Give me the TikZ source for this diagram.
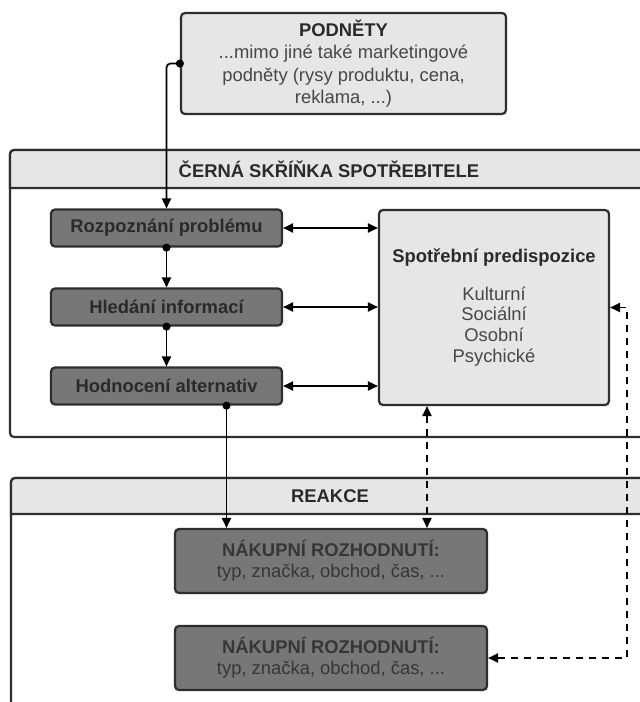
\documentclass[tikz,border=0pt]{standalone}
\usepackage{fontspec}
\setmainfont{Liberation Sans}
\usepackage{tikz}
\usetikzlibrary{arrows.meta}

\definecolor{boxlight}{HTML}{E6E6E6}
\definecolor{boxdark}{HTML}{777777}
\definecolor{edge}{HTML}{2E2E2E}
\definecolor{inktext}{HTML}{2A2A2A}
\definecolor{softtext}{HTML}{474747}
\definecolor{naktext}{HTML}{363636}

\begin{document}
\begin{tikzpicture}[x=0.5pt,y=-0.5pt,>={Triangle[length=5pt,width=4.6pt]}]
\tikzstyle{every node} = [font = \fontsize{9.2}{11.2}\selectfont]
\tikzstyle{lightbox} = [draw=edge, line width=1.1pt, fill=boxlight, rounded corners=2pt, align=center, inner sep=0pt]
\tikzstyle{darkbox} = [draw=edge, line width=1.1pt, fill=boxdark, rounded corners=2pt, align=center, inner sep=0pt, text=inktext, font=\fontsize{9.2}{10.5}\selectfont\bfseries]
\tikzstyle{link} = [draw=black, line width=0.85pt]
\tikzstyle{dotlink} = [link, {Circle[length=4pt]}->, shorten <=-2pt]
\tikzstyle{twoway} = [link, <->]
\tikzstyle{dashlink} = [link, <->, dash pattern=on 3.5pt off 3pt]
\useasboundingbox (0,0) rectangle (640,702);
\clip (0,0) rectangle (640,702);

	% cerna skrinka
	\draw[edge, line width=1.1pt, fill=white, rounded corners=2pt] (10,150) rectangle (648,437);
	\filldraw[fill=boxlight, draw=edge, line width=1.1pt] (10,188) {[rounded corners=2pt] -- (10,150) -- (648,150)} -- (648,188) -- cycle;
	\node[text=inktext, font=\fontsize{9.2}{11.2}\selectfont\bfseries] (cernatitle) at (329,169) {ČERNÁ SKŘÍŇKA SPOTŘEBITELE};
	% reakce
	\draw[edge, line width=1.1pt, fill=white, rounded corners=2pt] (11,478) rectangle (648,740);
	\filldraw[fill=boxlight, draw=edge, line width=1.1pt] (11,514) {[rounded corners=2pt] -- (11,478) -- (648,478)} -- (648,514) -- cycle;
	\node[text=inktext, font=\fontsize{9.2}{11.2}\selectfont\bfseries] (reakcetitle) at (330,496) {REAKCE};

	\node[lightbox, minimum width=162.5pt, minimum height=50.5pt, text=softtext] (podnety) at (343.5,63.5)
		{{\color{inktext}\bfseries PODNĚTY}\\...mimo jiné také marketingové\\podněty (rysy produktu, cena,\\reklama, ...)};
	\node[darkbox, minimum width=115.5pt, minimum height=18.5pt] (rozp) at (166.5,228) {Rozpoznání problému};
	\node[darkbox, minimum width=115.5pt, minimum height=18.5pt] (hled) at (166.5,307) {Hledání informací};
	\node[darkbox, minimum width=115.5pt, minimum height=18.5pt] (hodn) at (166.5,386) {Hodnocení alternativ};
	\node[lightbox, minimum width=115pt, minimum height=97.5pt, text=softtext, font=\fontsize{9.2}{10.4}\selectfont] (pred) at (494,307.5)
		{{\color{inktext}\bfseries Spotřební predispozice}\\[8.5pt]Kulturní\\Sociální\\Osobní\\Psychické};
	\node[darkbox, minimum width=156pt, minimum height=32pt, text=naktext] (nak1) at (331,561)
		{NÁKUPNÍ ROZHODNUTÍ:\\{\mdseries typ, značka, obchod, čas, ...}};
	\node[darkbox, minimum width=156pt, minimum height=32pt, text=naktext] (nak2) at (331,658)
		{NÁKUPNÍ ROZHODNUTÍ:\\{\mdseries typ, značka, obchod, čas, ...}};

	\draw[dotlink, rounded corners=2pt] (podnety.west) -| (rozp.north);
	\draw[dotlink] (rozp.south) -- (hled.north);
	\draw[dotlink] (hled.south) -- (hodn.north);
	\draw[twoway] (rozp.east) -- (rozp.east -| pred.west);
	\draw[twoway] (hled.east) -- (hled.east -| pred.west);
	\draw[twoway] (hodn.east) -- (hodn.east -| pred.west);
	\draw[dotlink] ([xshift=30pt]hodn.south) -- ([xshift=30pt]hodn.south |- nak1.north);
	\draw[dashlink] ([xshift=-33.5pt]pred.south) -- ([xshift=-33.5pt]pred.south |- nak1.north);
	\draw[dashlink] (nak2.east) -| ([xshift=8.5pt]pred.east) -- (pred.east);
\end{tikzpicture}
\end{document}
